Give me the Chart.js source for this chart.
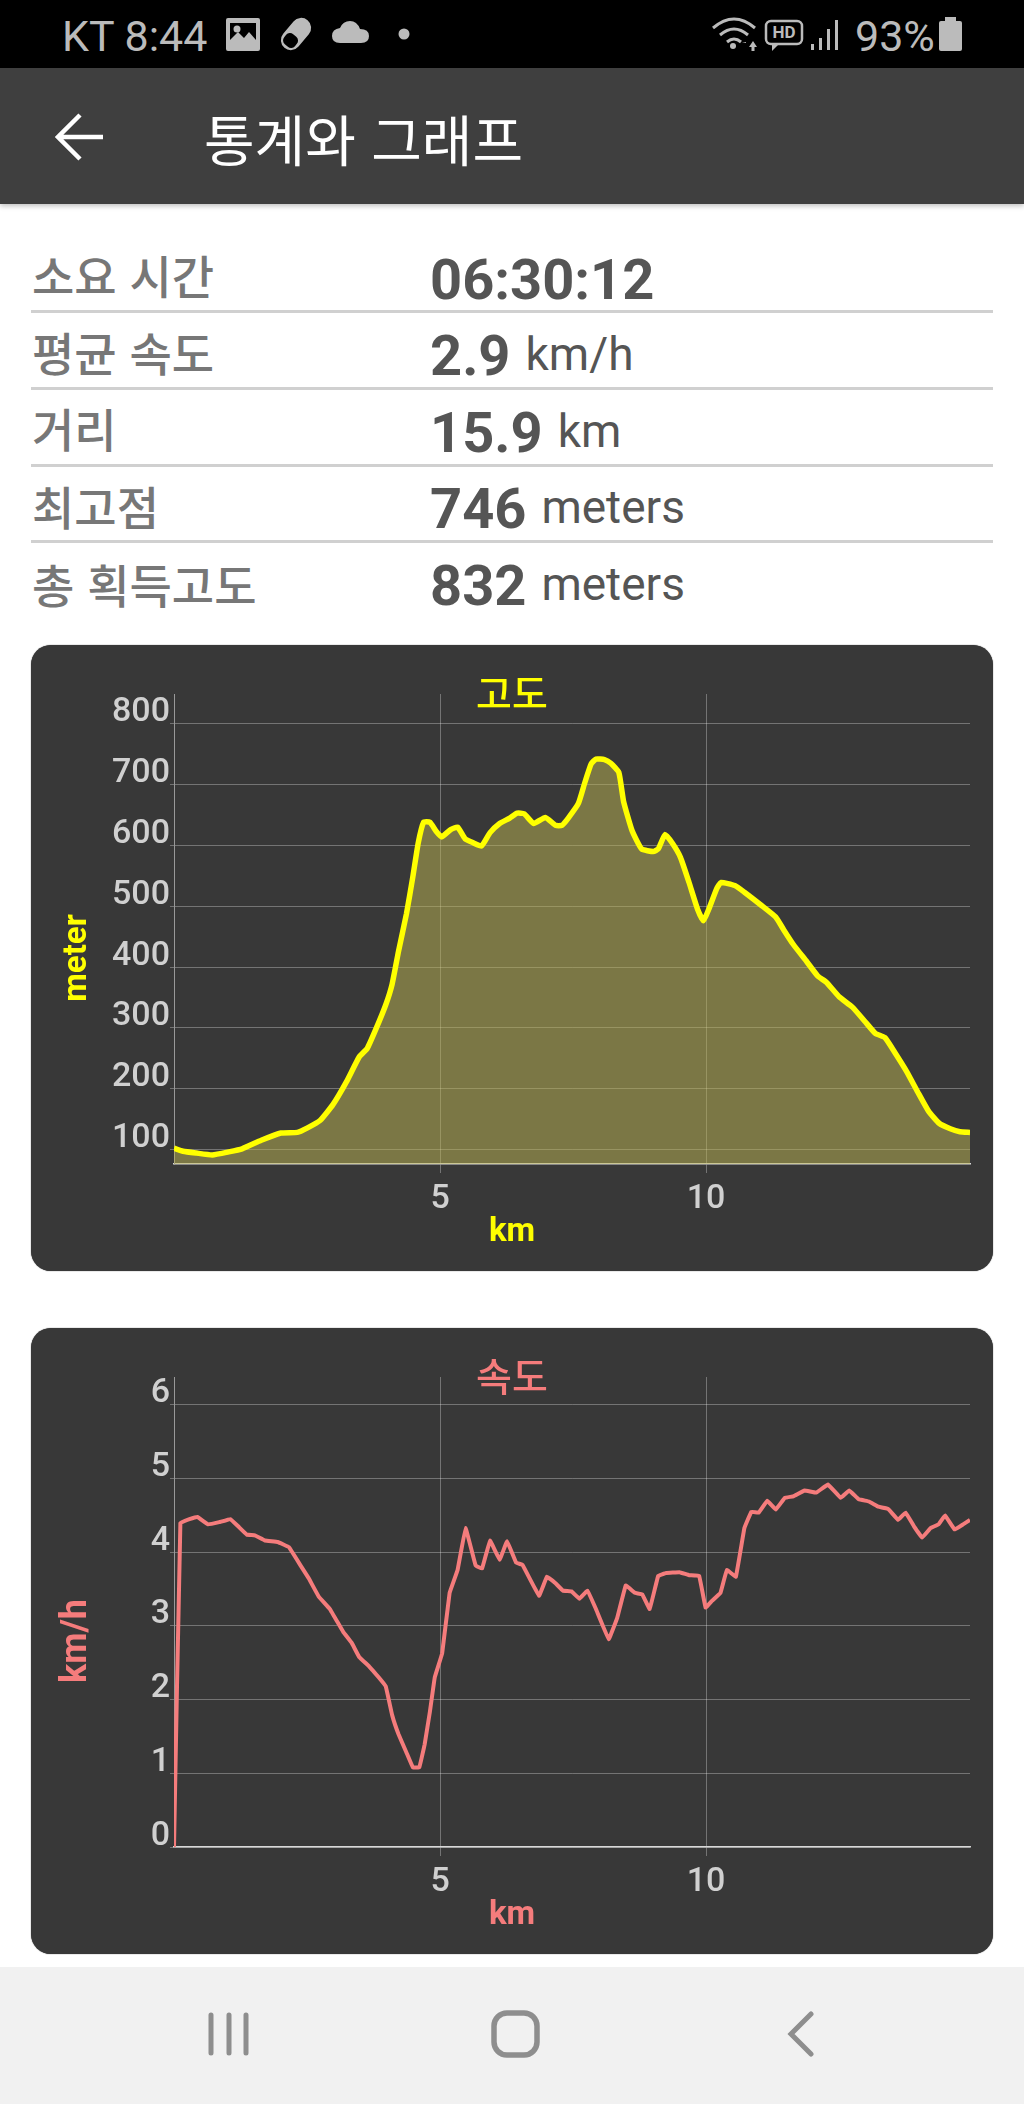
<!DOCTYPE html>
<html lang="ko">
<head>
<meta charset="utf-8">
<title>통계와 그래프</title>
<script src="https://cdn.jsdelivr.net/npm/chart.js"></script>
<style>
html, body { margin: 0; padding: 0; background: #fff; }
body { position: relative; width: 1024px; height: 2104px; overflow: hidden; font-family: Roboto, "Noto Sans CJK KR", sans-serif; }
.abs { position: absolute; }
#status { left: 0; top: 0; width: 1024px; height: 68px; background: #000; }
#appbar { left: 0; top: 68px; width: 1024px; height: 136px; background: #3f3f3f; box-shadow: 0 2px 5px rgba(0,0,0,.25); }
#apptitle { left: 204px; top: 102px; color: #fff; font: 400 55px/70px "Noto Sans CJK KR"; white-space: nowrap; }
.stext { color: #bbb; font-size: 43px; line-height: 46px; white-space: nowrap; }
.lbl { left: 32px; color: #777; font: 500 46px/56px "Noto Sans CJK KR"; white-space: nowrap; }
.val { left: 430px; color: #555; white-space: nowrap; font-size: 46px; line-height: 56px; }
.val b { font-size: 56px; font-weight: 700; margin-right: 15px; }
.val span { position: relative; top: -5px; }
.sep { left: 31px; width: 962px; height: 3px; background: #d0d0d0; }
.card { left: 31px; width: 962px; height: 626px; background: #383838; border-radius: 20px; box-shadow: 0 0 1px #222; }
canvas { position: absolute; left: 0; top: 0; }
#nav { left: 0; top: 1967px; width: 1024px; height: 137px; background: #f1f1f1; }
</style>
</head>
<body>
<div class="abs" id="status"></div>
<div class="abs stext" style="left:62px;top:13px">KT 8:44</div>
<svg class="abs" style="left:0;top:0" width="1024" height="68" fill="#bbb">
  <path fill-rule="evenodd" d="M228 18h30q2 0 2 2v29q0 2-2 2h-30q-2 0-2-2V20q0-2 2-2zm2 5v17l8-8 6 6 5-6 7 8V23z"/>
  <circle cx="237" cy="29" r="3.5"/>
  <g transform="rotate(40 296 34)"><rect x="286" y="16" width="20" height="36" rx="10"/><rect x="289" y="36" width="14" height="13" rx="5" fill="#000"/></g>
  <path d="M340 43q-8 0-8-7t8-8q3-7 10-7t10 8q9 0 9 7t-8 7z"/>
  <circle cx="404" cy="34" r="5.5"/>
  <g fill="none" stroke="#bbb" stroke-width="3"><path d="M713 28q21-18 42 0"/><path d="M720 35q14-12 28 0"/><path d="M727 42q7-6 14 0"/></g>
  <circle cx="733" cy="46" r="3"/>
  <path d="M742 43h4v-1zM749 47l4-6 4 6h-2.500v4h-3v-4z"/>
  <rect x="766" y="21" width="36" height="23" rx="5" fill="none" stroke="#bbb" stroke-width="2.500"/>
  <path d="M772 44v7l7-7z"/>
  <text x="784" y="38" font-family="Roboto" font-size="17" font-weight="700" text-anchor="middle">HD</text>
  <rect x="811" y="44" width="3" height="6"/><rect x="819" y="38" width="3" height="12"/><rect x="827" y="29" width="3" height="21"/><rect x="835" y="20" width="3" height="30"/>
  <rect x="945" y="17" width="11" height="5"/><rect x="939" y="21" width="23" height="30" rx="2"/>
</svg>
<div class="abs stext" style="left:855px;top:13px">93%</div>

<div class="abs" id="appbar"></div>
<svg class="abs" style="left:55px;top:112px" width="50" height="50" fill="none" stroke="#fff" stroke-width="4.500">
  <path d="M3 25H48M25 3L3 25L25 47"/>
</svg>
<div class="abs" id="apptitle">통계와 그래프</div>

<div class="abs lbl" style="top:246px">소요 시간</div>
<div class="abs val" style="top:252px"><b>06:30:12</b></div>
<div class="abs sep" style="top:310px"></div>
<div class="abs lbl" style="top:323px">평균 속도</div>
<div class="abs val" style="top:328px"><b>2.9</b><span>km/h</span></div>
<div class="abs sep" style="top:387px"></div>
<div class="abs lbl" style="top:399px">거리</div>
<div class="abs val" style="top:405px"><b>15.9</b><span>km</span></div>
<div class="abs sep" style="top:464px"></div>
<div class="abs lbl" style="top:477px">최고점</div>
<div class="abs val" style="top:481px"><b>746</b><span>meters</span></div>
<div class="abs sep" style="top:540px"></div>
<div class="abs lbl" style="top:555px">총 획득고도</div>
<div class="abs val" style="top:558px"><b>832</b><span>meters</span></div>

<div class="abs card" style="top:645px"><canvas id="altChart" width="962" height="626"></canvas></div>
<div class="abs card" style="top:1328px"><canvas id="speedChart" width="962" height="626"></canvas></div>

<div class="abs" id="nav"></div>
<svg class="abs" style="left:0;top:1967px" width="1024" height="137" fill="none" stroke="#8e8e8e" stroke-width="5" stroke-linecap="round">
  <path d="M211 48V86M229 48V86M246 48V86"/>
  <rect x="494" y="46" width="43" height="42" rx="13" stroke-width="5.500"/>
  <path d="M811 47L791 67L811 87"/>
</svg>

<script>
// values
var altKm = [0, 0.17, 0.42, 0.72, 1.03, 1.28, 1.64, 2.01, 2.32, 2.5, 2.75, 2.99, 3.24, 3.48, 3.63, 3.79, 3.98, 4.1, 4.22, 4.37, 4.49, 4.59, 4.69, 4.81, 4.93, 5.03, 5.2, 5.33, 5.47, 5.63, 5.78, 5.94, 6.12, 6.31, 6.45, 6.58, 6.76, 6.98, 7.17, 7.29, 7.41, 7.6, 7.72, 7.84, 7.93, 8.09, 8.21, 8.36, 8.45, 8.61, 8.79, 9.01, 9.1, 9.23, 9.37, 9.52, 9.68, 9.84, 9.95, 10.05, 10.2, 10.28, 10.54, 10.72, 11.03, 11.31, 11.46, 11.64, 11.89, 12.1, 12.26, 12.5, 12.75, 12.99, 13.18, 13.36, 13.55, 13.77, 13.98, 14.18, 14.38, 14.59, 14.77, 14.96];
var altMeters = [102, 97, 94, 91, 96, 101, 115, 127, 128, 135, 148, 174, 211, 252, 266, 297, 338, 372, 426, 488, 549, 604, 638, 638, 623, 614, 626, 630, 611, 604, 599, 621, 636, 645, 653, 652, 636, 646, 633, 633, 645, 669, 703, 734, 742, 741, 735, 720, 672, 624, 594, 590, 594, 618, 603, 580, 539, 495, 476, 495, 529, 539, 534, 523, 502, 482, 461, 437, 409, 385, 375, 351, 334, 310, 291, 284, 259, 228, 194, 163, 143, 134, 129, 128];
var altTicks = [100, 200, 300, 400, 500, 600, 700, 800];

var speedKm = [0, 0.12, 0.29, 0.44, 0.64, 0.85, 1.06, 1.21, 1.37, 1.52, 1.71, 1.95, 2.16, 2.38, 2.53, 2.72, 2.93, 3.18, 3.34, 3.48, 3.67, 3.85, 3.98, 4.1, 4.22, 4.37, 4.49, 4.61, 4.71, 4.81, 4.9, 5.04, 5.18, 5.33, 5.48, 5.67, 5.79, 5.94, 6.12, 6.26, 6.43, 6.55, 6.86, 7.01, 7.17, 7.31, 7.47, 7.62, 7.77, 7.93, 8.17, 8.33, 8.49, 8.66, 8.8, 8.94, 9.1, 9.25, 9.5, 9.68, 9.87, 9.99, 10.11, 10.27, 10.39, 10.56, 10.72, 10.85, 10.99, 11.15, 11.31, 11.48, 11.64, 11.85, 12.07, 12.29, 12.53, 12.69, 12.87, 13.06, 13.24, 13.42, 13.61, 13.75, 13.91, 14.06, 14.22, 14.37, 14.49, 14.67, 14.83, 14.96];
var speedKmh = [0, 4.4, 4.45, 4.48, 4.38, 4.41, 4.45, 4.35, 4.24, 4.23, 4.16, 4.14, 4.07, 3.82, 3.65, 3.4, 3.23, 2.92, 2.77, 2.58, 2.45, 2.3, 2.18, 1.79, 1.53, 1.28, 1.08, 1.08, 1.39, 1.84, 2.3, 2.63, 3.45, 3.76, 4.33, 3.82, 3.78, 4.16, 3.9, 4.15, 3.86, 3.83, 3.41, 3.67, 3.58, 3.48, 3.47, 3.37, 3.48, 3.23, 2.82, 3.11, 3.55, 3.45, 3.43, 3.23, 3.68, 3.72, 3.73, 3.69, 3.68, 3.25, 3.34, 3.45, 3.76, 3.67, 4.33, 4.55, 4.54, 4.7, 4.58, 4.74, 4.76, 4.84, 4.81, 4.92, 4.74, 4.84, 4.72, 4.69, 4.62, 4.59, 4.44, 4.54, 4.35, 4.2, 4.33, 4.38, 4.5, 4.31, 4.38, 4.44];
var speedTicks = [0, 1, 2, 3, 4, 5, 6];

var kmTicks = [5, 10];

function toPoints(xs, ys) {
  return xs.map(function (x, i) { return { x: x, y: ys[i] }; });
}

function makeChart(id, cfg) {
  var titleLh = 39 * 1.2;
  var kmLh = 33 * 1.2;
  return new Chart(document.getElementById(id).getContext('2d'), {
    type: 'line',
    data: {
      datasets: [{
        data: toPoints(cfg.xs, cfg.ys),
        borderColor: cfg.color,
        borderWidth: cfg.lineWidth,
        backgroundColor: cfg.fillColor,
        fill: cfg.fillColor ? 'origin' : false,
        pointRadius: 0,
        tension: cfg.tension
      }]
    },
    options: {
      responsive: false,
      animation: false,
      devicePixelRatio: 1,
      // same left and right padding keeps the title and "km" centred on the card
      layout: { padding: { left: 23, right: 23, top: 49, bottom: 0 } },
      plugins: {
        legend: { display: false },
        tooltip: { enabled: false },
        // title and "km" take no layout room, they sit over the plot like the app does
        title: {
          display: true,
          text: cfg.title,
          color: cfg.color,
          font: { family: '"Noto Sans CJK KR"', size: 39, weight: '500' },
          padding: { top: -1 - titleLh / 2, bottom: 1 - titleLh / 2 }
        },
        subtitle: {
          display: true,
          position: 'bottom',
          text: 'km',
          color: cfg.color,
          font: { family: 'Roboto', size: 33, weight: '700' },
          padding: { top: -38 - kmLh / 2, bottom: 38 - kmLh / 2 }
        }
      },
      scales: {
        x: {
          type: 'linear',
          min: 0,
          max: 14.96,
          afterBuildTicks: function (s) { s.ticks = kmTicks.map(function (v) { return { value: v }; }); },
          afterFit: function (s) { s.height = 107; },
          grid: { color: 'rgba(255,255,255,0.3)', lineWidth: 1, tickLength: 9 },
          border: { color: '#d8d8d8', width: 1.5 },
          ticks: { color: '#d0d0d0', padding: 6, maxRotation: 0, autoSkip: false, font: { family: 'Roboto', size: 34, weight: '500' } }
        },
        y: {
          min: cfg.yMin,
          max: cfg.yMax,
          afterBuildTicks: function (s) { s.ticks = cfg.yTicks.map(function (v) { return { value: v }; }); },
          afterFit: function (s) { s.width = 120; },
          grid: { color: 'rgba(255,255,255,0.3)', lineWidth: 1, tickLength: 4 },
          border: { color: '#999999', width: 1 },
          ticks: { color: '#d0d0d0', padding: 0, align: 'end', labelOffset: 6, autoSkip: false, font: { family: 'Roboto', size: 34, weight: '500' } }
        }
      }
    },
    plugins: [{
      // axis name is centred on the card, not on the plot
      id: 'yName',
      afterDraw: function (chart) {
        var ctx = chart.ctx;
        ctx.save();
        ctx.translate(cfg.yNameX, chart.height / 2);
        ctx.rotate(-Math.PI / 2);
        ctx.fillStyle = cfg.color;
        ctx.font = '700 ' + cfg.yNameSize + 'px Roboto';
        ctx.textAlign = 'center';
        ctx.textBaseline = 'middle';
        ctx.fillText(cfg.yName, 0, 0);
        ctx.restore();
      }
    }]
  });
}

makeChart('altChart', {
  xs: altKm, ys: altMeters, yTicks: altTicks, yMin: 76, yMax: 849,
  title: '고도', yName: 'meter', yNameX: 47, yNameSize: 33,
  color: '#ffff00', fillColor: 'rgba(190,182,82,0.5)', lineWidth: 5.5, tension: 0.15
});
makeChart('speedChart', {
  xs: speedKm, ys: speedKmh, yTicks: speedTicks, yMin: 0, yMax: 6.38,
  title: '속도', yName: 'km/h', yNameX: 46, yNameSize: 36,
  color: '#f57c7c', fillColor: null, lineWidth: 4, tension: 0.05
});
</script>
</body>
</html>
